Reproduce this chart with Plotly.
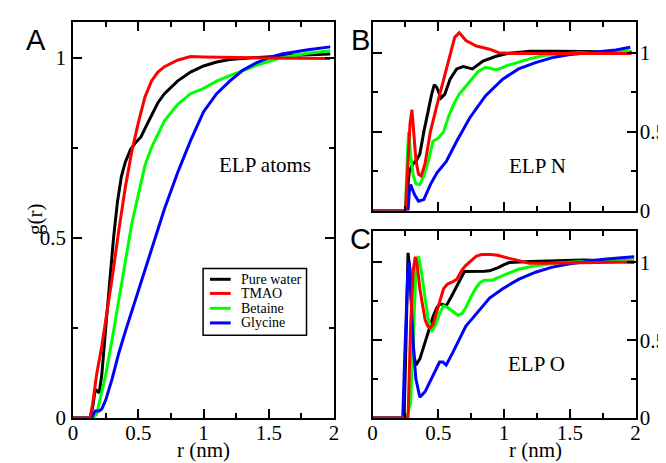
import plotly.graph_objects as go

W, H = 666, 463

# ---------------- data ----------------
series_names = ["Pure water", "TMAO", "Betaine", "Glycine"]
series_colors = ["#000000", "#ff0000", "#00ff00", "#0000ff"]

# Panel A : ELP atoms
rA_water = [0, 0.13, 0.15, 0.17, 0.2, 0.22, 0.25, 0.28, 0.31, 0.34, 0.37, 0.4, 0.44, 0.48, 0.52, 0.56, 0.6, 0.65, 0.7, 0.8, 0.9, 1.0, 1.1, 1.2, 1.3, 1.5, 1.7, 1.97]
gA_water = [0, 0, 0.03, 0.08, 0.07, 0.12, 0.25, 0.38, 0.5, 0.6, 0.67, 0.71, 0.745, 0.765, 0.78, 0.81, 0.84, 0.875, 0.9, 0.935, 0.96, 0.977, 0.988, 0.995, 0.998, 1.003, 1.007, 1.01]
rA_tmao = [0, 0.13, 0.15, 0.18, 0.22, 0.26, 0.3, 0.35, 0.4, 0.45, 0.5, 0.55, 0.6, 0.65, 0.7, 0.8, 0.9, 1.0, 1.2, 1.5, 1.97]
gA_tmao = [0, 0, 0.04, 0.12, 0.2, 0.29, 0.39, 0.52, 0.64, 0.74, 0.82, 0.89, 0.935, 0.96, 0.975, 0.993, 1.003, 1.002, 1.0, 0.999, 0.998]
rA_bet = [0, 0.15, 0.18, 0.2, 0.25, 0.3, 0.35, 0.4, 0.45, 0.5, 0.55, 0.6, 0.65, 0.7, 0.8, 0.9, 1.0, 1.1, 1.2, 1.3, 1.4, 1.5, 1.6, 1.8, 1.97]
gA_bet = [0, 0, 0.01, 0.04, 0.12, 0.22, 0.33, 0.44, 0.54, 0.62, 0.7, 0.75, 0.79, 0.825, 0.87, 0.9, 0.915, 0.935, 0.95, 0.965, 0.978, 0.99, 1.0, 1.012, 1.019]
rA_gly = [0, 0.14, 0.17, 0.2, 0.22, 0.25, 0.3, 0.35, 0.4, 0.5, 0.6, 0.7, 0.8, 0.9, 1.0, 1.1, 1.2, 1.3, 1.4, 1.5, 1.6, 1.8, 1.97]
gA_gly = [0, 0, 0.02, 0.02, 0.025, 0.05, 0.11, 0.18, 0.24, 0.355, 0.47, 0.58, 0.68, 0.77, 0.85, 0.9, 0.935, 0.965, 0.985, 1.0, 1.01, 1.022, 1.03]

# Panel B : ELP N
rB_water = [0, 0.25, 0.28, 0.31, 0.335, 0.36, 0.39, 0.42, 0.45, 0.47, 0.49, 0.52, 0.55, 0.59, 0.64, 0.69, 0.76, 0.84, 0.94, 1.04, 1.2, 1.4, 1.6, 1.8, 1.97]
gB_water = [0, 0, 0.25, 0.3, 0.32, 0.36, 0.5, 0.63, 0.74, 0.8, 0.78, 0.715, 0.74, 0.835, 0.9, 0.915, 0.9, 0.95, 0.98, 1.0, 1.012, 1.012, 1.01, 1.008, 1.008]
rB_tmao = [0, 0.25, 0.27, 0.285, 0.3, 0.315, 0.33, 0.35, 0.37, 0.4, 0.44, 0.49, 0.54, 0.59, 0.625, 0.66, 0.71, 0.79, 0.89, 0.96, 1.1, 1.3, 1.5, 1.7, 1.97]
gB_tmao = [0, 0, 0.3, 0.55, 0.64, 0.5, 0.32, 0.23, 0.22, 0.3, 0.5, 0.67, 0.83, 1.0, 1.1, 1.13, 1.08, 1.045, 1.025, 1.003, 0.997, 0.998, 0.998, 0.997, 0.997]
rB_bet = [0, 0.25, 0.265, 0.275, 0.29, 0.31, 0.33, 0.36, 0.39, 0.42, 0.46, 0.5, 0.54, 0.58, 0.62, 0.66, 0.7, 0.75, 0.8, 0.86, 0.9, 0.94, 0.98, 1.02, 1.1, 1.2, 1.3, 1.5, 1.7, 1.96]
gB_bet = [0, 0, 0.35, 0.5, 0.35, 0.22, 0.17, 0.165, 0.22, 0.3, 0.44, 0.46, 0.5, 0.6, 0.68, 0.74, 0.78, 0.83, 0.88, 0.91, 0.9, 0.895, 0.905, 0.92, 0.94, 0.965, 0.985, 1.0, 1.006, 1.014]
rB_gly = [0, 0.27, 0.28, 0.29, 0.32, 0.35, 0.39, 0.44, 0.49, 0.56, 0.64, 0.74, 0.86, 0.99, 1.11, 1.24, 1.36, 1.49, 1.6, 1.74, 1.85, 1.96]
gB_gly = [0, 0, 0.12, 0.165, 0.1, 0.06, 0.07, 0.165, 0.24, 0.31, 0.44, 0.59, 0.73, 0.835, 0.9, 0.94, 0.97, 0.99, 1.0, 1.01, 1.02, 1.037]

# Panel C : ELP O
rC_water = [0, 0.24, 0.255, 0.27, 0.285, 0.3, 0.315, 0.33, 0.36, 0.39, 0.43, 0.46, 0.49, 0.51, 0.53, 0.56, 0.6, 0.64, 0.68, 0.7, 0.75, 0.8, 0.85, 0.89, 0.93, 0.96, 1.0, 1.04, 1.2, 1.4, 1.6, 1.8, 1.99]
gC_water = [0, 0, 0.5, 1.06, 0.95, 0.63, 0.4, 0.34, 0.38, 0.46, 0.57, 0.65, 0.71, 0.73, 0.73, 0.72, 0.78, 0.85, 0.91, 0.94, 0.94, 0.94, 0.942, 0.945, 0.955, 0.967, 0.985, 0.998, 1.004, 1.01, 1.014, 1.01, 1.0]
rC_tmao = [0, 0.27, 0.29, 0.31, 0.325, 0.34, 0.36, 0.38, 0.4, 0.42, 0.44, 0.46, 0.49, 0.52, 0.54, 0.57, 0.6, 0.64, 0.68, 0.71, 0.75, 0.79, 0.83, 0.86, 0.9, 0.95, 0.99, 1.04, 1.09, 1.14, 1.19, 1.3, 1.5, 1.7, 1.99]
gC_tmao = [0, 0, 0.6, 0.95, 1.035, 0.98, 0.83, 0.72, 0.63, 0.59, 0.58, 0.6, 0.69, 0.78, 0.83, 0.86, 0.87, 0.89, 0.95, 0.98, 1.01, 1.04, 1.05, 1.05, 1.05, 1.045, 1.035, 1.025, 1.015, 1.003, 0.994, 0.993, 0.995, 0.998, 1.002]
rC_bet = [0, 0.26, 0.29, 0.31, 0.33, 0.35, 0.37, 0.39, 0.42, 0.45, 0.48, 0.51, 0.54, 0.57, 0.6, 0.65, 0.68, 0.71, 0.75, 0.79, 0.82, 0.85, 0.88, 0.91, 0.95, 0.99, 1.05, 1.11, 1.24, 1.4, 1.6, 1.8, 1.99]
gC_bet = [0, 0, 0.1, 0.5, 0.95, 1.04, 0.95, 0.83, 0.65, 0.555, 0.6, 0.67, 0.72, 0.71, 0.69, 0.66, 0.67, 0.71, 0.78, 0.84, 0.87, 0.885, 0.885, 0.885, 0.9, 0.915, 0.935, 0.955, 0.977, 0.995, 1.005, 1.01, 1.014]
rC_gly = [0, 0.23, 0.245, 0.26, 0.27, 0.28, 0.29, 0.31, 0.33, 0.36, 0.4, 0.44, 0.48, 0.51, 0.535, 0.56, 0.61, 0.66, 0.71, 0.76, 0.81, 0.89, 0.99, 1.11, 1.24, 1.36, 1.49, 1.6, 1.74, 1.85, 1.99]
gC_gly = [0, 0, 0.4, 0.83, 0.97, 1.0, 0.8, 0.46, 0.25, 0.134, 0.17, 0.24, 0.3, 0.36, 0.36, 0.34, 0.42, 0.5, 0.59, 0.64, 0.69, 0.77, 0.83, 0.89, 0.936, 0.967, 0.988, 1.0, 1.018, 1.025, 1.035]

x_tickvals = [0, 0.5, 1, 1.5, 2]
x_ticktext = ["0", "0.5", "1", "1.5", "2"]
y_tickvals = [0, 0.5, 1]
y_ticktext = ["0", "0.5", "1"]

panel_A = [(rA_water, gA_water), (rA_tmao, gA_tmao), (rA_bet, gA_bet), (rA_gly, gA_gly)]
panel_B = [(rB_water, gB_water), (rB_tmao, gB_tmao), (rB_bet, gB_bet), (rB_gly, gB_gly)]
panel_C = [(rC_water, gC_water), (rC_tmao, gC_tmao), (rC_bet, gC_bet), (rC_gly, gC_gly)]

# ---------------- figure ----------------
def PX(x):
    return x / W

def PY(y):
    return 1 - y / H

SERIF = "Liberation Serif, Times New Roman, Times, serif"
SANS = "Liberation Sans, Arial, Helvetica, sans-serif"

fig = go.Figure()
draw_order = [0, 2, 3, 1]
for panel, (xa, ya) in [(panel_A, ("x", "y")), (panel_B, ("x2", "y2")), (panel_C, ("x3", "y3"))]:
    for i in draw_order:
        r, g = panel[i]
        fig.add_trace(go.Scatter(x=r, y=g, mode="lines", name=series_names[i],
                                 line=dict(color=series_colors[i], width=3),
                                 xaxis=xa, yaxis=ya, showlegend=False))

axis_common = dict(showline=True, linewidth=2, linecolor="black", mirror="allticks",
                   ticks="inside", ticklen=9, tickwidth=2, tickcolor="black",
                   minor=dict(ticks="inside", ticklen=5, tickwidth=2, tickcolor="black", dtick=0.25, tick0=0),
                   showgrid=False, zeroline=False,
                   tickfont=dict(family=SERIF, size=21, color="black"))

xA = [PX(61), PX(326)]
xBC = [PX(365), PX(632)]
yA = [PY(421), PY(14)]
yB = [PY(208), PY(14)]
yC = [PY(421), PY(229)]

fig.update_layout(
    width=W, height=H,
    margin=dict(l=0, r=0, t=0, b=0),
    paper_bgcolor="white", plot_bgcolor="white",
    showlegend=False,
    font=dict(family=SERIF, color="black"),
    xaxis=dict(domain=xA, range=[0, 2], anchor="y", tickvals=x_tickvals, ticktext=x_ticktext,
               ticklabelstandoff=-5, **axis_common),
    yaxis=dict(domain=yA, range=[0, 1.1], anchor="x", tickvals=y_tickvals, ticktext=y_ticktext,
               ticklabelstandoff=1, **axis_common),
    xaxis2=dict(domain=xBC, range=[0, 2], anchor="y2", tickvals=x_tickvals, ticktext=x_ticktext,
                showticklabels=False, **axis_common),
    yaxis2=dict(domain=yB, range=[0, 1.2], anchor="x2", side="right", tickvals=y_tickvals, ticktext=y_ticktext,
                ticklabelstandoff=-2, **axis_common),
    xaxis3=dict(domain=xBC, range=[0, 2], anchor="y3", tickvals=x_tickvals, ticktext=x_ticktext,
                ticklabelstandoff=-5, **axis_common),
    yaxis3=dict(domain=yC, range=[0, 1.2], anchor="x3", side="right", tickvals=y_tickvals, ticktext=y_ticktext,
                ticklabelstandoff=-2, **axis_common),
)

annotations = []
def add_text(text, x, y, size, family=SERIF, angle=0, xanchor="center"):
    annotations.append(dict(text=text, x=PX(x), y=PY(y), xref="paper", yref="paper",
                            showarrow=False, xanchor=xanchor, yanchor="middle", textangle=angle,
                            font=dict(family=family, size=size, color="black")))

add_text("A", 23, 33, 29, SANS)
add_text("B", 353, 33, 29, SANS)
add_text("C", 353, 237, 29, SANS)
add_text("ELP atoms", 256, 161, 21)
add_text("ELP N", 532, 162, 21)
add_text("ELP O", 531, 365, 21)
add_text("r (nm)", 193, 454, 21)
add_text("r (nm)", 530, 454, 21)
add_text("g(r)", 23, 217, 21, angle=-90)

# legend box (manual, xmgrace style)
shapes = [dict(type="rect", xref="paper", yref="paper", x0=PX(193), x1=PX(298), y0=PY(336), y1=PY(267.5),
               line=dict(color="black", width=1.5), fillcolor="white", layer="above")]
leg_rows = [278.5, 293, 308.3, 323.3]
for name, col, yy in zip(series_names, series_colors, leg_rows):
    shapes.append(dict(type="line", xref="paper", yref="paper", x0=PX(200), x1=PX(221), y0=PY(yy), y1=PY(yy),
                       line=dict(color=col, width=3), layer="above"))
    add_text(name, 229, yy, 14, xanchor="left")

fig.update_layout(annotations=annotations, shapes=shapes)
fig.write_html("out.html")
